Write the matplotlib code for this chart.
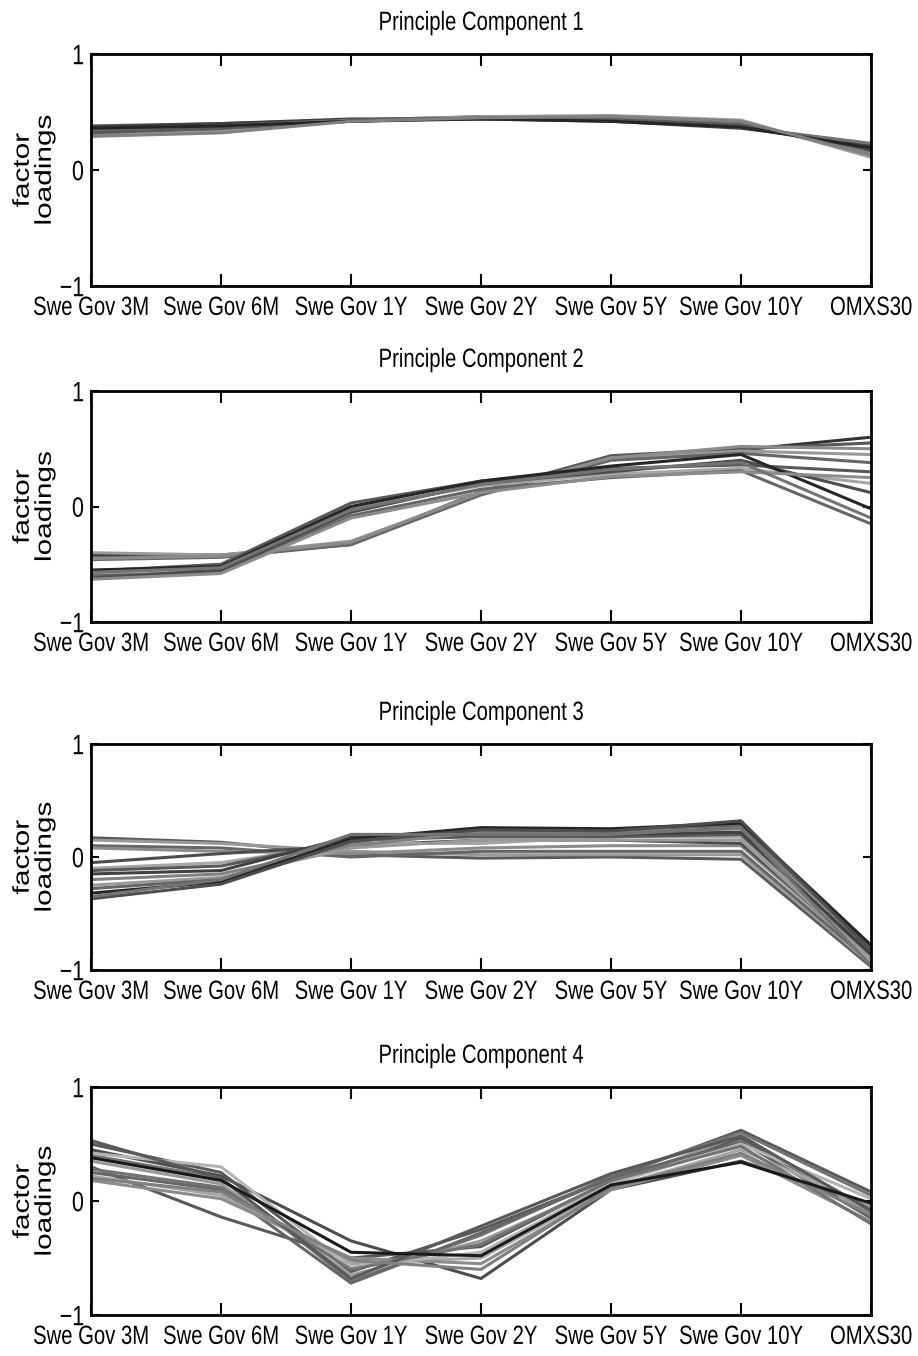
import matplotlib
matplotlib.use("Agg")
import matplotlib.pyplot as plt
from matplotlib.patheffects import AbstractPathEffect
from matplotlib.transforms import Affine2D

# Series on the horizontal axis
assets = ["Swe Gov 3M", "Swe Gov 6M", "Swe Gov 1Y", "Swe Gov 2Y",
          "Swe Gov 5Y", "Swe Gov 10Y", "OMXS30"]
yticks = [-1, 0, 1]
ytick_labels = ["\u22121", "0", "1"]

# Factor loadings per rolling window, one row per window
pc1_loadings = [
    [0.38, 0.40, 0.43, 0.44, 0.43, 0.38, 0.20],
    [0.36, 0.39, 0.43, 0.45, 0.44, 0.40, 0.16],
    [0.34, 0.37, 0.42, 0.45, 0.45, 0.41, 0.14],
    [0.33, 0.35, 0.43, 0.46, 0.46, 0.42, 0.12],
    [0.30, 0.33, 0.43, 0.46, 0.47, 0.43, 0.11],
    [0.37, 0.40, 0.44, 0.44, 0.42, 0.36, 0.22],
    [0.35, 0.38, 0.43, 0.44, 0.43, 0.37, 0.23],
    [0.32, 0.36, 0.42, 0.45, 0.44, 0.39, 0.18],
    [0.36, 0.38, 0.42, 0.44, 0.42, 0.37, 0.19],
    [0.29, 0.32, 0.42, 0.45, 0.46, 0.42, 0.13],
]
pc1_grays = [0.35, 0.30, 0.55, 0.40, 0.60, 0.25, 0.45, 0.35, 0.15, 0.50]

pc2_loadings = [
    [-0.42, -0.42, -0.33, 0.12, 0.43, 0.49, 0.60],
    [-0.44, -0.43, -0.32, 0.13, 0.44, 0.50, 0.55],
    [-0.40, -0.42, -0.30, 0.11, 0.42, 0.48, 0.45],
    [-0.46, -0.44, -0.33, 0.10, 0.40, 0.46, 0.38],
    [-0.45, -0.43, -0.31, 0.12, 0.42, 0.52, 0.50],
    [-0.56, -0.50, 0.03, 0.22, 0.33, 0.36, 0.30],
    [-0.58, -0.55, -0.02, 0.18, 0.28, 0.33, 0.20],
    [-0.60, -0.57, -0.08, 0.15, 0.25, 0.31, -0.15],
    [-0.62, -0.55, -0.05, 0.20, 0.30, 0.40, 0.12],
    [-0.55, -0.52, 0.00, 0.22, 0.35, 0.45, -0.02],
    [-0.63, -0.58, -0.10, 0.12, 0.26, 0.30, 0.25],
    [-0.57, -0.53, -0.03, 0.19, 0.32, 0.38, -0.10],
]
pc2_grays = [0.20, 0.35, 0.60, 0.40, 0.55, 0.35, 0.65, 0.40, 0.30, 0.15, 0.55, 0.45]

pc3_loadings = [
    [0.17, 0.13, 0.02, -0.01, 0.00, -0.02, -0.97],
    [0.15, 0.12, 0.05, 0.02, 0.02, 0.02, -0.95],
    [0.10, 0.08, 0.00, 0.05, 0.05, 0.05, -0.93],
    [0.08, 0.05, 0.03, 0.08, 0.10, 0.10, -0.90],
    [-0.05, 0.03, 0.10, 0.15, 0.15, 0.12, -0.88],
    [-0.10, -0.05, 0.12, 0.12, 0.18, 0.18, -0.92],
    [-0.12, -0.08, 0.15, 0.18, 0.18, 0.20, -0.85],
    [-0.15, -0.12, 0.18, 0.20, 0.20, 0.22, -0.87],
    [-0.20, -0.15, 0.10, 0.22, 0.22, 0.25, -0.82],
    [-0.25, -0.18, 0.08, 0.15, 0.15, 0.15, -0.90],
    [-0.28, -0.20, 0.13, 0.25, 0.24, 0.28, -0.80],
    [-0.32, -0.22, 0.16, 0.26, 0.25, 0.30, -0.78],
    [-0.37, -0.24, 0.14, 0.24, 0.23, 0.32, -0.83],
    [-0.35, -0.20, 0.20, 0.20, 0.20, 0.26, -0.96],
]
pc3_grays = [0.35, 0.60, 0.40, 0.55, 0.30, 0.65, 0.35, 0.25, 0.50, 0.60, 0.40, 0.15, 0.30, 0.45]

pc4_loadings = [
    [0.45, 0.22, -0.35, -0.68, 0.10, 0.35, -0.05],
    [0.50, 0.25, -0.62, -0.25, 0.20, 0.62, 0.08],
    [0.40, 0.20, -0.70, -0.30, 0.22, 0.60, 0.05],
    [0.30, -0.14, -0.50, -0.40, 0.18, 0.55, -0.10],
    [0.35, 0.15, -0.65, -0.35, 0.15, 0.58, -0.12],
    [0.25, 0.10, -0.72, -0.28, 0.20, 0.52, -0.15],
    [0.22, 0.05, -0.55, -0.50, 0.12, 0.45, -0.05],
    [0.18, 0.02, -0.50, -0.55, 0.10, 0.40, -0.18],
    [0.42, 0.30, -0.58, -0.45, 0.15, 0.50, 0.02],
    [0.28, 0.12, -0.60, -0.38, 0.18, 0.48, -0.20],
    [0.53, 0.20, -0.68, -0.22, 0.24, 0.57, -0.08],
    [0.20, 0.08, -0.52, -0.60, 0.12, 0.42, -0.12],
    [0.38, 0.18, -0.45, -0.48, 0.14, 0.34, -0.02],
]
pc4_grays = [0.30, 0.35, 0.45, 0.35, 0.60, 0.40, 0.65, 0.55, 0.70, 0.45, 0.35, 0.50, 0.10]

panels = [
    ("Principle Component 1", pc1_loadings, pc1_grays),
    ("Principle Component 2", pc2_loadings, pc2_grays),
    ("Principle Component 3", pc3_loadings, pc3_grays),
    ("Principle Component 4", pc4_loadings, pc4_grays),
]


class TallText(AbstractPathEffect):
    """Stretch glyph outlines vertically about their own centre,
    giving a tall, narrow Helvetica look."""

    def __init__(self, sy=1.3):
        super().__init__()
        self._sy = sy

    def draw_path(self, renderer, gc, tpath, affine, rgbFace=None):
        ext = tpath.get_extents(affine)
        yc = 0.5 * (ext.y0 + ext.y1)
        stretch = Affine2D().translate(0, -yc).scale(1, self._sy).translate(0, yc)
        renderer.draw_path(gc, tpath, affine + stretch, rgbFace)


tall = [TallText(1.3)]
family = ["Liberation Sans", "DejaVu Sans"]

fig = plt.figure(figsize=(9.18, 13.56), dpi=100)
W, H = 918.0, 1356.0
left_px, right_px = 91, 871
# (top, bottom) pixel rows of each panel frame
rows_px = [(54, 286), (391, 622), (744, 970), (1087, 1315)]

xs = list(range(1, len(assets) + 1))

for (title, loadings, grays), (top, bot) in zip(panels, rows_px):
    ax = fig.add_axes([left_px / W, 1 - bot / H,
                       (right_px - left_px) / W, (bot - top) / H])
    for vals, g in zip(loadings, grays):
        ax.plot(xs, vals, color=(g, g, g), lw=2.2)
    ax.set_xlim(1, len(assets))
    ax.set_ylim(-1, 1)
    ax.set_xticks(xs)
    ax.set_xticklabels(assets, family=family, fontsize=14.6)
    ax.set_yticks(yticks)
    ax.set_yticklabels(ytick_labels, family=family, fontsize=15.5)
    ax.tick_params(axis="x", direction="in", length=8.6, width=1.5,
                   top=True, bottom=True, pad=8.5, colors="black")
    ax.tick_params(axis="y", direction="in", length=5.5, width=1.5,
                   left=True, right=True, pad=5.0, colors="black")
    for lab in ax.get_xticklabels() + ax.get_yticklabels():
        lab.set_path_effects(tall)
    for sp in ax.spines.values():
        sp.set_linewidth(2.0)
        sp.set_color("black")
    t = ax.set_title(title, family=family, fontsize=14.6, pad=18.5)
    t.set_path_effects(tall)
    yl = ax.set_ylabel("factor\nloadings", family=family, fontsize=16.5,
                       ha="center", va="center", linespacing=0.95,
                       multialignment="center")
    yl.set_path_effects(tall)
    ax.yaxis.set_label_coords(-0.074, 0.5)

fig.savefig("out.png", dpi=100, facecolor="white")
